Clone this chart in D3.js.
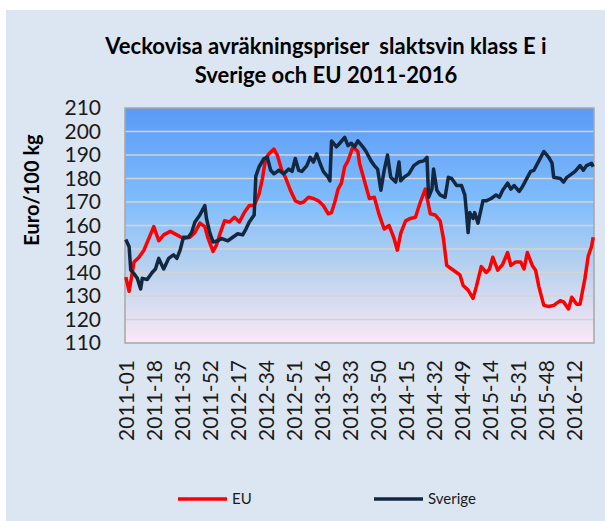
<!DOCTYPE html>
<html>
<head>
<meta charset="utf-8">
<script src="https://cdn.jsdelivr.net/npm/d3@7"></script>
<style>
  body { margin: 0; background: #fff; }
  svg { display: block; font-family: Lato, "Open Sans", sans-serif; }
</style>
</head>
<body>
<svg id="chart" width="605" height="521"></svg>
<script>
// weeks per year shown on the category axis (2016 ends at week 24)
const yearWeeks = [[2011, 52], [2012, 52], [2013, 52], [2014, 52], [2015, 53], [2016, 24]];

const tickLabels = ["2011-01","2011-18","2011-35","2011-52","2012-17","2012-34","2012-51",
  "2013-16","2013-33","2013-50","2014-15","2014-32","2014-49","2015-14","2015-31",
  "2015-48","2016-12"];

const yTicks = [110, 120, 130, 140, 150, 160, 170, 180, 190, 200, 210];

// EU price, Euro/100 kg (week, value)
const euPoints = [
  ["2011-01",138],["2011-03",132],["2011-06",144.5],["2011-09",146.5],["2011-12",149.5],
  ["2011-15",154.5],["2011-18",159.5],["2011-21",153.5],["2011-24",156],["2011-28",157.5],
  ["2011-32",156],["2011-36",154.5],["2011-40",155],["2011-43",157],["2011-46",161],
  ["2011-49",159.5],["2011-51",154.5],["2012-02",149],["2012-04",151.5],["2012-06",156],
  ["2012-09",162],["2012-12",161.5],["2012-15",163.5],["2012-18",161.5],["2012-21",165.5],
  ["2012-24",168.5],["2012-27",168.5],["2012-30",173.5],["2012-32",180],["2012-34",188.5],
  ["2012-36",190.5],["2012-39",192.5],["2012-41",190],["2012-44",183],["2012-46",180.5],
  ["2012-49",175],["2012-52",170.5],["2013-03",169.5],["2013-05",170],["2013-08",172],
  ["2013-11",171.5],["2013-14",170.5],["2013-17",168.5],["2013-20",165],["2013-22",165.5],
  ["2013-24",170],["2013-26",175.5],["2013-28",178],["2013-30",185],["2013-32",187.5],
  ["2013-35",193.5],["2013-38",191.5],["2013-39",186.5],["2013-42",179],["2013-45",171.5],
  ["2013-48",172],["2013-51",164.5],["2014-02",158.5],["2014-05",160],["2014-08",154.5],
  ["2014-10",149.5],["2014-12",156.5],["2014-15",162],["2014-18",163],["2014-21",163.5],
  ["2014-24",170],["2014-27",175.5],["2014-30",165],["2014-33",164.5],["2014-36",162],
  ["2014-38",154.5],["2014-40",143],["2014-43",141.5],["2014-46",140],["2014-48",139],
  ["2014-50",134.5],["2015-01",132.5],["2015-04",129],["2015-06",134],["2015-09",142.5],
  ["2015-12",140],["2015-14",141.5],["2015-16",146.5],["2015-19",141],["2015-22",143.5],
  ["2015-25",148.5],["2015-27",143],["2015-30",144.5],["2015-33",144.5],["2015-35",141.5],
  ["2015-37",148.5],["2015-40",143],["2015-42",141],["2015-44",134],["2015-47",126],
  ["2015-50",125.5],["2015-53",126],["2016-04",128],["2016-06",127.5],["2016-09",124.5],
  ["2016-11",129.5],["2016-14",126.5],["2016-16",126.5],["2016-19",137.5],["2016-21",147],
  ["2016-23",151],["2016-24",155]
];

// Sverige price, Euro/100 kg
const sePoints = [
  ["2011-01",154],["2011-03",151],["2011-04",141],["2011-06",139.5],["2011-08",137.5],
  ["2011-10",133],["2011-11",137.5],["2011-14",137],["2011-17",140],["2011-19",141.5],
  ["2011-21",146],["2011-24",141.5],["2011-27",146],["2011-30",147.5],["2011-32",146],
  ["2011-34",149.5],["2011-36",155],["2011-39",155],["2011-41",157],["2011-43",161.5],
  ["2011-46",164.5],["2011-49",168.5],["2011-50",163],["2011-52",157],["2012-02",153],
  ["2012-05",153.5],["2012-07",154.5],["2012-11",153.5],["2012-14",155],["2012-17",156.5],
  ["2012-20",156],["2012-22",158.5],["2012-24",161.5],["2012-27",164.5],["2012-28",181],
  ["2012-30",185],["2012-33",188.5],["2012-35",189],["2012-37",183.5],["2012-39",182],
  ["2012-42",183.5],["2012-45",182],["2012-48",184],["2012-50",183],["2012-52",188.5],
  ["2013-02",183.5],["2013-04",183],["2013-07",185.5],["2013-09",189],["2013-11",187],
  ["2013-13",190.5],["2013-15",186.5],["2013-17",183],["2013-20",180.5],["2013-21",179],
  ["2013-22",196],["2013-25",193.5],["2013-27",195],["2013-30",197.5],["2013-32",194],
  ["2013-34",195],["2013-36",193.5],["2013-38",196],["2013-41",193.5],["2013-43",191.5],
  ["2013-46",187.5],["2013-48",185.5],["2013-50",184],["2013-52",175],["2014-02",183.5],
  ["2014-04",190],["2014-06",180.5],["2014-09",178.5],["2014-11",187],["2014-12",179],
  ["2014-14",180.5],["2014-17",182],["2014-20",185.5],["2014-23",187],["2014-26",187.5],
  ["2014-28",189],["2014-29",172],["2014-31",175.5],["2014-32",184],["2014-34",175],
  ["2014-36",173],["2014-39",172],["2014-41",180.5],["2014-43",180],["2014-46",177],
  ["2014-49",177],["2014-51",173],["2014-52",165.5],["2015-01",157],["2015-02",165.5],
  ["2015-04",163],["2015-05",165.5],["2015-07",161],["2015-10",170.5],["2015-12",170.5],
  ["2015-15",171.5],["2015-18",173],["2015-20",172],["2015-22",175],["2015-25",178],
  ["2015-27",175.5],["2015-29",177],["2015-32",174.5],["2015-34",176.5],["2015-37",180.5],
  ["2015-39",183],["2015-41",183.5],["2015-44",187.5],["2015-47",191.5],["2015-50",189],
  ["2015-52",186.5],["2015-53",180.5],["2016-04",180],["2016-06",178.5],["2016-08",180.5],
  ["2016-11",182],["2016-13",183],["2016-16",185.5],["2016-18",183.5],["2016-20",185.5],
  ["2016-23",186.5],["2016-24",185]
];

const weeks = yearWeeks.flatMap(([yr, n]) =>
  d3.range(1, n + 1).map(w => `${yr}-${String(w).padStart(2, "0")}`));

const svg = d3.select("#chart");

// chart area background
svg.append("rect")
  .attr("x", 6).attr("y", 10)
  .attr("width", 599).attr("height", 511)
  .attr("fill", "#dce6f2");

const plot = { left: 125, right: 594, top: 108, bottom: 343 };

const x = d3.scaleBand().domain(weeks).range([plot.left, plot.right]);
const y = d3.scaleLinear().domain([110, 210]).range([plot.bottom, plot.top]);
const cx = w => x(w) + x.bandwidth() / 2;

// plot gradient
const grad = svg.append("defs").append("linearGradient")
  .attr("id", "plotGrad").attr("x1", 0).attr("y1", 0).attr("x2", 0).attr("y2", 1);
[["0%", "#5b9af6"], ["40%", "#80bdfc"], ["70%", "#bcd3ee"], ["100%", "#fce8f6"]]
  .forEach(([o, c]) => grad.append("stop").attr("offset", o).attr("stop-color", c));

svg.append("rect")
  .attr("x", plot.left).attr("y", plot.top)
  .attr("width", plot.right - plot.left).attr("height", plot.bottom - plot.top)
  .attr("fill", "url(#plotGrad)");

// gridlines
svg.append("g")
  .selectAll("line")
  .data(yTicks.slice(1, -1))
  .enter().append("line")
  .attr("x1", plot.left).attr("x2", plot.right)
  .attr("y1", d => y(d)).attr("y2", d => y(d))
  .attr("stroke", "#d4d4d4")
  .attr("stroke-width", 1.5);

svg.append("rect")
  .attr("x", plot.left).attr("y", plot.top)
  .attr("width", plot.right - plot.left).attr("height", plot.bottom - plot.top)
  .attr("fill", "none")
  .attr("stroke", "#a6a6a6")
  .attr("stroke-width", 1.5);

// y axis
const yAxis = svg.append("g")
  .attr("transform", `translate(${plot.left - 24},0)`)
  .call(d3.axisLeft(y).tickValues(yTicks).tickSize(0).tickPadding(0));
yAxis.select(".domain").remove();
yAxis.selectAll("text")
  .attr("font-family", "Lato, sans-serif")
  .attr("font-size", "21px")
  .attr("fill", "#1a1a1a");

svg.append("text")
  .attr("transform", "translate(39,190) rotate(-90)")
  .attr("text-anchor", "middle")
  .attr("font-size", "20px")
  .attr("font-weight", "bold")
  .attr("fill", "#000")
  .text("Euro/100 kg");

// x axis
const xAxis = svg.append("g")
  .attr("transform", `translate(0,${plot.bottom})`)
  .call(d3.axisBottom(x).tickValues(tickLabels).tickSize(0));
xAxis.select(".domain").remove();
xAxis.selectAll("text")
  .attr("y", 0).attr("x", 0).attr("dy", "0.36em")
  .attr("transform", "translate(1,17) rotate(-90)")
  .attr("text-anchor", "end")
  .attr("font-family", "Lato, sans-serif")
  .attr("font-size", "21px")
  .attr("fill", "#1a1a1a");

// series lines
const line = d3.line()
  .x(d => cx(d[0]))
  .y(d => y(d[1]));

const series = [
  { name: "EU", points: euPoints, color: "#ff0000" },
  { name: "Sverige", points: sePoints, color: "#13283f" }
];

series.forEach(s => {
  svg.append("path")
    .datum(s.points)
    .attr("fill", "none")
    .attr("stroke", s.color)
    .attr("stroke-width", 3.5)
    .attr("stroke-linejoin", "round")
    .attr("d", line);
});

// title
svg.append("text")
  .attr("text-anchor", "middle")
  .attr("font-size", "22px")
  .attr("font-weight", "bold")
  .attr("fill", "#000")
  .selectAll("tspan")
  .data(["Veckovisa avräkningspriser  slaktsvin klass E i", "Sverige och EU 2011-2016"])
  .enter().append("tspan")
  .attr("x", 326)
  .attr("y", (d, i) => 54 + i * 29)
  .attr("xml:space", "preserve")
  .style("white-space", "pre")
  .text(d => d);

// legend
const legendX = [178, 374];
series.forEach((s, i) => {
  const g = svg.append("g").attr("transform", `translate(${legendX[i]},499)`);
  g.append("line")
    .attr("x1", 0).attr("x2", 49)
    .attr("stroke", s.color)
    .attr("stroke-width", 3.5);
  g.append("text")
    .attr("x", 54).attr("dy", "0.35em")
    .attr("font-size", "15px")
    .attr("fill", "#1a1a1a")
    .text(s.name);
});
</script>
</body>
</html>
